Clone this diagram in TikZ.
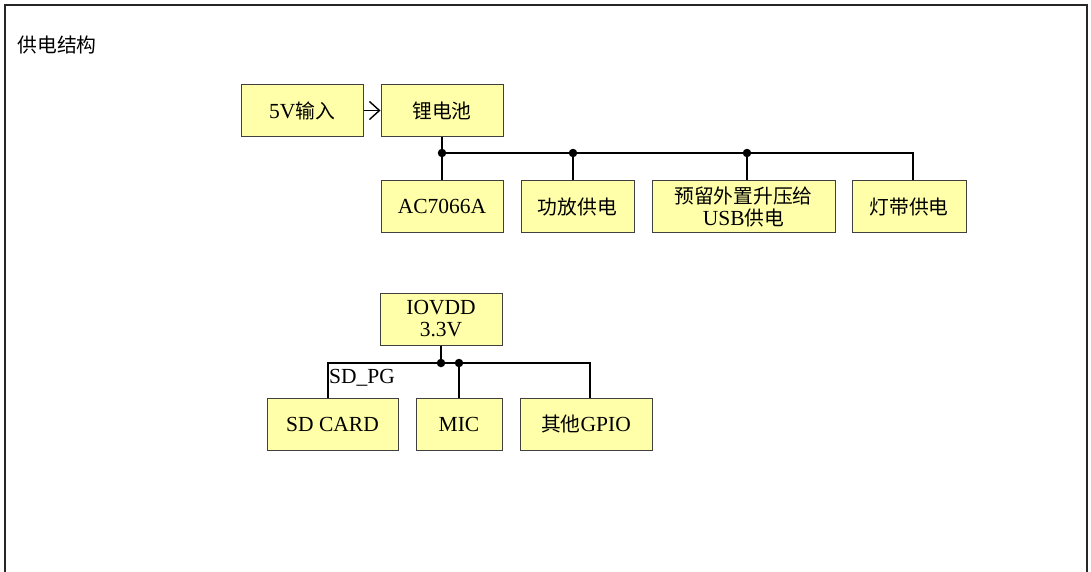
\documentclass[tikz,border=0pt]{standalone}
\usepackage{fontspec}
\setmainfont{Liberation Serif}
\newfontfamily\zhfont[Scale=0.92]{Noto Sans CJK SC}
\newcommand{\zh}[1]{{\zhfont #1}}
\usetikzlibrary{arrows.meta}
\definecolor{boxfill}{RGB}{255,255,170}
\definecolor{boxline}{RGB}{64,64,64}

\begin{document}
\begin{tikzpicture}[
        x=1pt, y=-1pt,
        font=\fontsize{21.5}{22}\selectfont,
        blk/.style={draw=boxline, line width=1, fill=boxfill, align=center, inner sep=0pt,
                    minimum width=122, minimum height=52},
        wire/.style={line width=1.8, black},
        dot/.style={circle, fill=black, inner sep=0pt, minimum size=8.5}
    ]
        \useasboundingbox (0,0) rectangle (1091,571);
        \draw[line width=2, black!85] (5,580) -- (5,5) -- (1087,5) -- (1087,580);
        \node[anchor=west] (title) at (14,45) {\zh{供电结构}};

        % battery branch
        \node[blk] (in5v) at (302,110.5) {5V\zh{输入}};
        \node[blk] (bat) at (442,110.5) {\zh{锂电池}};
        \node[blk] (ac) at (442,206) {AC7066A};
        \node[blk, minimum width=113] (amp) at (577.5,206.5) {\zh{功放供电}};
        \node[blk, minimum width=183] (usb) at (743.5,206.5) {\zh{预留外置升压给}\\USB\zh{供电}};
        \node[blk, minimum width=114] (led) at (909,206.5) {\zh{灯带供电}};
        \coordinate (j1) at (442,153);
        \coordinate (j2) at (573,153);
        \coordinate (j3) at (747,153);
        \coordinate (j4) at (913,153);
        \draw[wire, -{Straight Barb[length=10, width=18, line width=1.4]}] (in5v) -- (bat);
        \draw[wire] (bat) -- (ac);
        \draw[wire] (j1) -- (j4) -- (j4 |- led.north);
        \draw[wire] (j2) -- (j2 |- amp.north);
        \draw[wire] (j3) -- (j3 |- usb.north);
        \node[dot] at (j1) {}; \node[dot] at (j2) {}; \node[dot] at (j3) {};

        % IOVDD branch
        \node[blk] (io) at (441,319) {IOVDD\\3.3V};
        \node[blk, minimum width=131] (sd) at (332.5,424) {SD CARD};
        \node[blk, minimum width=86] (mic) at (459,424) {MIC};
        \node[blk, minimum width=132] (gpio) at (586,424) {\zh{其他}GPIO};
        \coordinate (k0) at (328,363);
        \coordinate (k1) at (441,363);
        \coordinate (k2) at (459,363);
        \coordinate (k3) at (590,363);
        \draw[wire] (io) -- (k1);
        \draw[wire] (k0 |- sd.north) -- (k0) -- (k3) -- (k3 |- gpio.north);
        \draw[wire] (k2) -- (k2 |- mic.north);
        \node[dot] at (k1) {}; \node[dot] at (k2) {};
        \node[anchor=west, inner sep=1pt] (sdpg) at (328,378) {SD\_PG};
    \end{tikzpicture}
\end{document}
